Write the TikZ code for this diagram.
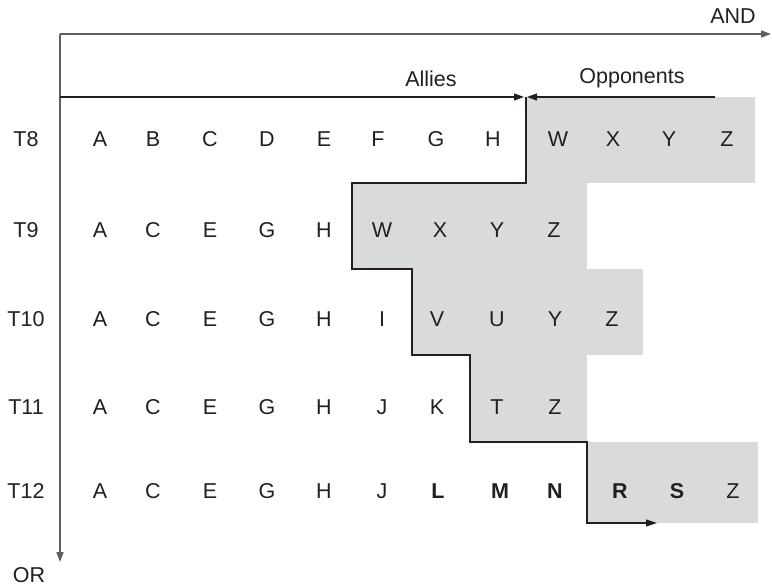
\documentclass[tikz,border=0pt]{standalone}
\usepackage{fontspec}
\setmainfont{Liberation Sans}
\usetikzlibrary{arrows.meta}
\definecolor{shadegray}{RGB}{217,218,220}
\definecolor{ink}{RGB}{35,31,32}
\definecolor{axisgray}{RGB}{95,95,95}
\begin{document}
\begin{tikzpicture}[x=1pt,y=-1pt,
  lbl/.style={font=\fontsize{21.5}{24}\selectfont, text=ink, inner sep=0pt, anchor=center},
  bl/.style={font=\fontsize{21.5}{24}\selectfont\bfseries, text=ink, inner sep=0pt, anchor=center},
  axisline/.style={draw=axisgray, line width=1.6pt, -{Triangle[length=10pt,width=7pt]}},
  sideline/.style={draw=ink, line width=1.2pt, -{Triangle[length=10pt,width=7pt]}},
  boundarrow/.style={draw=ink, line width=1.1pt, -{Triangle[length=11pt,width=7pt]}}
]
\useasboundingbox (0,0) rectangle (772,586);
% shaded opponents region
\fill[shadegray] (526,97) rectangle (755,183);
\fill[shadegray] (352,183) rectangle (587,269);
\fill[shadegray] (412,269) rectangle (643,355);
\fill[shadegray] (470,355) rectangle (587,442);
\fill[shadegray] (587,442) rectangle (758,523);
% axes
\coordinate (origin) at (60,34);
\coordinate (andEnd) at (771,34);
\coordinate (orEnd) at (60,562);
\draw[axisline] (origin) -- (andEnd);
\draw[axisline] (origin) -- (orEnd);
\node[lbl] (andlbl) at (733,16) {AND};
\node[lbl] (orlbl) at (29,575) {OR};
% allies / opponents
\coordinate (alliesStart) at (60,97);
\coordinate (alliesEnd) at (524,97);
\coordinate (oppStart) at (715,97);
\coordinate (oppEnd) at (527,97);
\draw[sideline] (alliesStart) -- (alliesEnd);
\draw[sideline] (oppStart) -- (oppEnd);
\node[lbl] (allieslbl) at (431,79) {Allies};
\node[lbl] (opplbl) at (632,78) {Opponents};
% boundary
\coordinate (b0) at (526,97);
\coordinate (b1) at (526,183);
\coordinate (b2) at (352,183);
\coordinate (b3) at (352,269);
\coordinate (b4) at (412,269);
\coordinate (b5) at (412,355);
\coordinate (b6) at (470,355);
\coordinate (b7) at (470,442);
\coordinate (b8) at (587,442);
\coordinate (b9) at (587,523);
\coordinate (b10) at (657,523);
\draw[boundarrow] (b0) -- (b1) -- (b2) -- (b3) -- (b4) -- (b5) -- (b6) -- (b7) -- (b8) -- (b9) -- (b10);
% row labels
\node[lbl] (t8) at (26,139) {T8};
\node[lbl] (t9) at (26,230) {T9};
\node[lbl] (t10) at (26,319) {T10};
\node[lbl] (t11) at (26,407) {T11};
\node[lbl] (t12) at (26,491) {T12};
% row T8
\foreach \t/\x [count=\i] in {A/100,B/153,C/210,D/267,E/324,F/378,G/436,H/493,W/558,X/613,Y/669,Z/727}
  \node[lbl] (r8c\i) at (\x,139) {\t};
% row T9
\foreach \t/\x [count=\i] in {A/100,C/153,E/210,G/267,H/324,W/382,X/440,Y/497,Z/554}
  \node[lbl] (r9c\i) at (\x,230) {\t};
% row T10
\foreach \t/\x [count=\i] in {A/100,C/153,E/210,G/267,H/324,I/382,V/437,U/497,Y/555,Z/612}
  \node[lbl] (r10c\i) at (\x,319) {\t};
% row T11
\foreach \t/\x [count=\i] in {A/100,C/153,E/210,G/267,H/324,J/382,K/437,T/497,Z/555}
  \node[lbl] (r11c\i) at (\x,407) {\t};
% row T12
\foreach \t/\x [count=\i] in {A/100,C/153,E/210,G/267,H/324,J/382}
  \node[lbl] (r12c\i) at (\x,491) {\t};
\node[bl] (r12c7) at (438,491) {L};
\node[bl] (r12c8) at (500,491) {M};
\node[bl] (r12c9) at (555,491) {N};
\node[bl] (r12c10) at (620,491) {R};
\node[bl] (r12c11) at (677,491) {S};
\node[lbl] (r12c12) at (733,491) {Z};
\end{tikzpicture}
\end{document}
